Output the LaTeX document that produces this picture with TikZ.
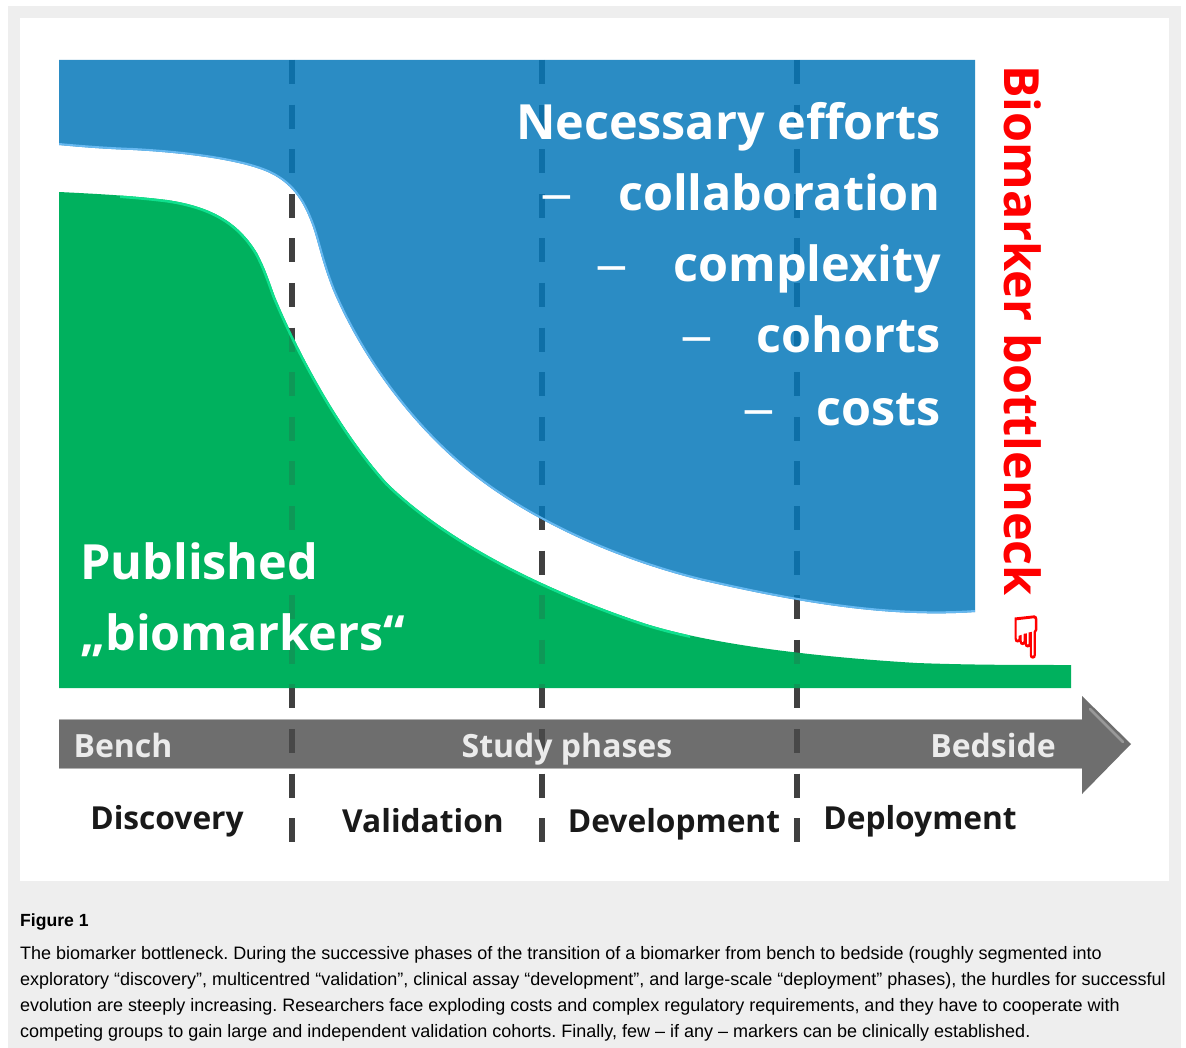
\documentclass[tikz,border=0pt]{standalone}
\usepackage{fontspec}
\setmainfont{Open Sans}
\newfontfamily\capfont{Liberation Sans}
\newfontfamily\handfont[FakeBold=3]{DejaVu Sans}
\usetikzlibrary{calc}
\definecolor{pagegray}{HTML}{EEEEEE}
\definecolor{effortblue}{HTML}{0678BA}
\definecolor{edgeblue}{HTML}{66B8F0}
\definecolor{markergreen}{HTML}{00B15E}
\definecolor{edgegreen}{HTML}{10E08E}
\definecolor{arrowgray}{HTML}{4A4A4A}
\definecolor{dashgray}{HTML}{404040}
\newcommand{\blueedge}{(975,612) .. controls (890,618) and (800,603) .. (700,580)
    .. controls (620,560) and (540,525) .. (480,480)
    .. controls (420,435) and (365,365) .. (333,290)
    .. controls (322,262) and (319,245) .. (313,227)
    .. controls (305,205) and (295,185) .. (270,173)
    .. controls (245,161) and (190,153) .. (133,150)
    .. controls (105,149) and (80,147) .. (59,145)}
\newcommand{\greenedge}{(59,192) .. controls (100,194) and (135,196) .. (167,200)
    .. controls (215,207) and (240,225) .. (257,253)
    .. controls (265,268) and (268,278) .. (275,297)
    .. controls (295,345) and (335,425) .. (387,483)
    .. controls (440,535) and (530,585) .. (640,622)
    .. controls (700,642) and (800,656) .. (917,663)
    .. controls (970,665) and (1020,665) .. (1071,665)}
\tikzset{>=latex}
\tikzset{phaseline/.style={draw=dashgray, line width=5.5pt, dash pattern=on 24pt off 20.6pt}}
\tikzset{bigtext/.style={font=\fontsize{48.5}{50}\selectfont\bfseries, text=white, inner sep=0pt, anchor=base east}}
\tikzset{bigdash/.style={font=\fontsize{48.5}{50}\selectfont, text=white, inner sep=0pt, anchor=base, xscale=1.35}}
\tikzset{greentext/.style={font=\fontsize{48.5}{50}\selectfont\bfseries, text=white, inner sep=0pt, anchor=base west}}
\tikzset{bartext/.style={font=\fontsize{32}{32}\selectfont\bfseries, text=black!8, inner sep=0pt, anchor=base}}
\tikzset{phasetext/.style={font=\fontsize{31.7}{33}\selectfont\bfseries, text=black!90, inner sep=0pt, anchor=base}}
\begin{document}
\begin{tikzpicture}[x=1pt, y=-1pt]
    \useasboundingbox (0,0) rectangle (1186,1048);
    \fill [pagegray] (8,6) rectangle (1181,1048);
    \fill [white] (20,18) rectangle (1169,881);

    % The phase borders, under the shapes.
    \foreach \name/\x in {one/292, two/542, three/797} {
        \coordinate (\name top) at (\x,60);
        \coordinate (\name bottom) at (\x,842);
        \draw [phaseline] (\name top) -- (\name bottom);
    }

    % The blue area and its lit edge.
    \fill [effortblue, opacity=.85] (59,60) -- (975,60) -- \blueedge -- cycle;
    \begin{scope}
        \clip (59,60) -- (975,60) -- \blueedge -- cycle;
        \draw [edgeblue, line width=4pt] \blueedge;
    \end{scope}

    % The green area, its lit edge and the borders seen through it.
    \fill [markergreen] (59,688) -- \greenedge -- (1071,688) -- cycle;
    \begin{scope}
        \clip (59,688) -- \greenedge -- (1071,688) -- cycle;
        \foreach \name in {one, two, three} {
            \draw [phaseline, draw opacity=.22] (\name top) -- (\name bottom);
        }
        \clip (120,180) rectangle (690,688);
        \draw [edgegreen, line width=5pt] \greenedge;
    \end{scope}

    % The bar with its arrow head.
    \fill [arrowgray, opacity=.8] (59,719) -- (1082,719) -- (1082,696) -- (1131,744)
        -- (1082,794) -- (1082,768) -- (59,768) -- cycle;
    \draw [black!30, line width=1pt] (59,719) -- (1082,719);
    \draw [black!30, line width=1pt] (59,768) -- (1082,768);
    \draw [black!40, line width=2.5pt, line cap=round] (1090,709) -- (1123,742);

    \node [bartext] (bench) at (123,757) {Bench};
    \node [bartext] (study) at (567,757) {Study phases};
    \node [bartext] (bedside) at (993,757) {Bedside};

    \node [phasetext] (discovery) at (167,829) {Discovery};
    \node [phasetext] (validation) at (423,832) {Validation};
    \node [phasetext] (development) at (674,832) {Development};
    \node [phasetext] (deployment) at (920,829) {Deployment};

    \node [bigtext] (efforts) at (941,140) {Necessary efforts};
    \node [bigtext] (collaboration) at (941,211) {collaboration};
    \node [bigtext] (complexity) at (941,282) {complexity};
    \node [bigtext] (cohorts) at (941,353) {cohorts};
    \node [bigtext] (costs) at (941,425) {costs};
    \node [bigdash] (dash1) at (557,211) {–};
    \node [bigdash] (dash2) at (612,282) {–};
    \node [bigdash] (dash3) at (697,353) {–};
    \node [bigdash] (dash4) at (759,425) {–};

    \node [greentext] (published) at (80,579) {Published};
    \node [greentext] (biomarkers) at (80,650) {„biomarkers“};

    \node [font=\fontsize{48.5}{50}\selectfont\bfseries, text=red, inner sep=0pt,
        rotate=-90, anchor=base west] (bottleneck) at (1004,65) {Biomarker bottleneck};
    \node [font=\handfont\fontsize{46}{46}\selectfont, text=red, inner sep=0pt, yscale=1.25] (hand) at (1026,637) {☟};

    % The caption under the panel.
    \node [font=\capfont\fontsize{17.6}{20}\selectfont\bfseries, inner sep=0pt, anchor=base west] (figlabel)
        at (20,926) {Figure 1};
    \node [font=\capfont\fontsize{18}{26}\selectfont\frenchspacing, inner sep=0pt, anchor=north west, align=left] (caption)
        at (20,946) {The biomarker bottleneck. During the successive phases of the transition of a biomarker from bench to bedside (roughly segmented into\\
        exploratory “discovery”, multicentred “validation”, clinical assay “development”, and large-scale “deployment” phases), the hurdles for successful\\
        evolution are steeply increasing. Researchers face exploding costs and complex regulatory requirements, and they have to cooperate with\\
        competing groups to gain large and independent validation cohorts. Finally, few – if any – markers can be clinically established.};
\end{tikzpicture}
\end{document}
